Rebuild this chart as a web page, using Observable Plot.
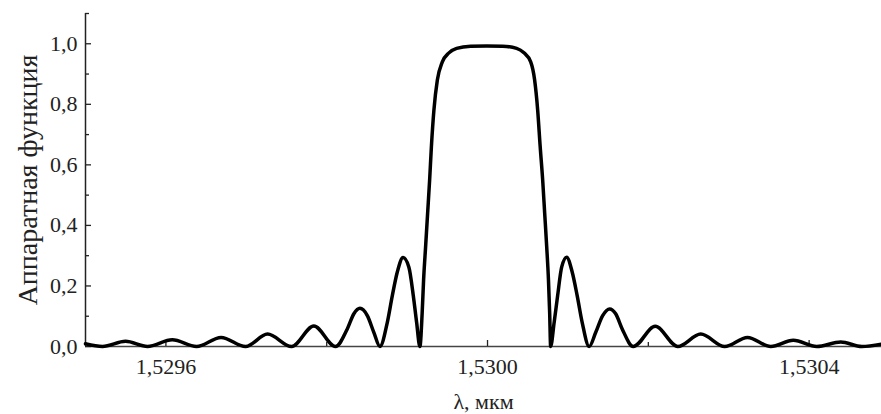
<!DOCTYPE html>
<html>
<head>
<meta charset="utf-8">
<script src="https://cdn.jsdelivr.net/npm/d3@7"></script>
<script src="https://cdn.jsdelivr.net/npm/@observablehq/plot@0.6"></script>
<style>
  html, body { margin: 0; padding: 0; background: #fff; overflow: hidden; }
</style>
</head>
<body>
<div id="chart"></div>
<script>
// wavelength, µm
const lambda = [
  1.5295000, 1.5295212, 1.5295498, 1.5295771, 1.5296079, 1.5296381, 1.5296686, 1.5296991,
  1.5297264, 1.5297563, 1.5297840, 1.5298110,
  1.5298256, 1.5298338, 1.5298413, 1.5298505, 1.5298587, 1.5298662,
  1.5298754, 1.5298816, 1.5298878, 1.5298950, 1.5299022, 1.5299077, 1.5299118, 1.5299159,
  1.5299187, 1.5299205, 1.5299230, 1.5299255, 1.5299280, 1.5299302, 1.5299333, 1.5299376,
  1.5299438, 1.5299520, 1.5299616, 1.5299790, 1.5299989, 1.5300188, 1.5300362, 1.5300453,
  1.5300537, 1.5300586, 1.5300624, 1.5300655, 1.5300686, 1.5300711, 1.5300736, 1.5300758,
  1.5300773, 1.5300785,
  1.5300829, 1.5300872, 1.5300922, 1.5300984, 1.5301053, 1.5301115, 1.5301177, 1.5301264,
  1.5301345, 1.5301432, 1.5301519, 1.5301594, 1.5301675, 1.5301812,
  1.5302086, 1.5302366, 1.5302652, 1.5302950, 1.5303233, 1.5303523, 1.5303803, 1.5304095,
  1.5304394, 1.5304655, 1.5304904
];
// apparatus function
const response = [
  0.009, 0, 0.017, 0, 0.022, 0, 0.030, 0, 0.041, 0, 0.068, 0,
  0.058, 0.108, 0.126, 0.102, 0.046, 0,
  0.08, 0.168, 0.246, 0.294, 0.262, 0.168, 0.08, 0,
  0.11, 0.22, 0.33, 0.44, 0.55, 0.66, 0.78, 0.88, 0.94, 0.97, 0.985, 0.992, 0.993,
  0.992, 0.985, 0.97, 0.94, 0.88, 0.78, 0.66, 0.55, 0.44, 0.33, 0.22, 0.11, 0,
  0.08, 0.168, 0.262, 0.295, 0.246, 0.168, 0.08, 0,
  0.046, 0.102, 0.124, 0.108, 0.058, 0,
  0.067, 0, 0.041, 0, 0.030, 0, 0.021, 0, 0.015, 0, 0.008
];

const xMajor = [1.5296, 1.5300, 1.5304];
const xMinor = [1.5298, 1.5302];
const yMajor = [0, 0.2, 0.4, 0.6, 0.8, 1.0];
const yMinor = [0.1, 0.3, 0.5, 0.7, 0.9, 1.1];
const xLabel = "λ, мкм";
const yLabel = "Аппаратная функция";

const data = lambda.map((l, i) => ({l, v: response[i]}));

const W = 881, H = 414;
const mL = 85, mR = 0, mT = 13, mB = 68;
const fw = W - mL - mR, fh = H - mT - mB;
const font = "Liberation Serif";
const comma = d => d.toFixed(1).replace(".", ",");
const commaX = d => d.toFixed(4).replace(".", ",");

const chart = Plot.plot({
  width: W, height: H,
  marginLeft: mL, marginRight: mR, marginTop: mT, marginBottom: mB,
  style: "font-family: 'Liberation Serif', serif; font-size: 22px; color: #222; background: #fff;",
  x: {domain: [1.5295, 1.53049], axis: null},
  y: {domain: [0, 1.1], axis: null},
  marks: [
    // axis lines
    Plot.ruleX([1.5295], {stroke: "#222", strokeWidth: 1.5}),
    Plot.ruleY([0], {stroke: "#444", strokeWidth: 1.5}),
    // inward ticks
    Plot.tickY(yMajor, {y: d => d, insetRight: fw - 6, stroke: "#222", strokeWidth: 1.3}),
    Plot.tickY(yMinor, {y: d => d, insetRight: fw - 4, stroke: "#222", strokeWidth: 1.3}),
    Plot.tickX(xMajor, {x: d => d, insetTop: fh - 6, stroke: "#222", strokeWidth: 1.3}),
    Plot.tickX(xMinor, {x: d => d, insetTop: fh - 4, stroke: "#222", strokeWidth: 1.3}),
    // tick labels
    Plot.axisY({ticks: yMajor, tickSize: 0, tickPadding: 8, tickFormat: comma, label: null, fontSize: 22, fontFamily: font, fill: "#222"}),
    Plot.axisX({ticks: xMajor, tickSize: 0, tickPadding: 12, tickFormat: commaX, label: null, fontSize: 22, fontFamily: font, fill: "#222"}),
    // axis titles
    Plot.text([yLabel], {text: d => d, frameAnchor: "left", textAnchor: "middle", rotate: -90, dx: -57, fontSize: 28, fontFamily: font, fill: "#222"}),
    Plot.text([xLabel], {text: d => d, frameAnchor: "bottom", dy: 62, fontSize: 22, fontFamily: font, fill: "#222"}),
    // curve
    Plot.line(data, {x: "l", y: "v", curve: "monotone-x", stroke: "#000", strokeWidth: 3.5, strokeLinejoin: "round"})
  ]
});
document.getElementById("chart").appendChild(chart);
</script>
</body>
</html>
